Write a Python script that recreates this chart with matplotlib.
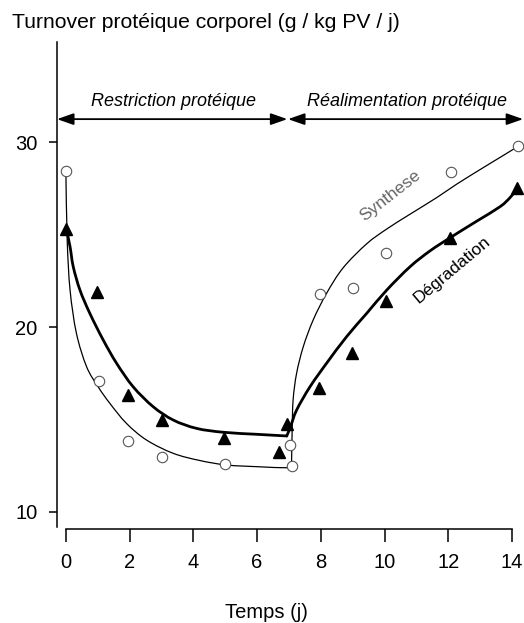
import numpy as np
import matplotlib.pyplot as plt
from matplotlib.path import Path
from matplotlib.patches import PathPatch

plt.rcParams['font.family'] = ['Liberation Sans', 'DejaVu Sans']

# ------------------------------
# Données
# ------------------------------
# Synthèse (cercles ouverts)
syn_jours = [0, 1.05, 1.95, 3.0, 5.0, 7.04, 7.08, 7.97, 9.02, 10.04, 12.08, 14.2]
syn_val = [28.45, 17.1, 13.85, 12.95, 12.6, 13.6, 12.5, 21.8, 22.1, 24.0, 28.4, 29.8]

# Dégradation (triangles pleins)
deg_jours = [0, 0.99, 1.96, 3.02, 4.97, 6.7, 6.93, 7.95, 8.97, 10.04, 12.05, 14.15]
deg_val = [25.3, 21.9, 16.3, 15.0, 14.0, 13.25, 14.75, 16.7, 18.6, 21.4, 24.8, 27.5]

# courbes ajustées (points relevés le long des tracés, une liste par tronçon)
syn_fit = [
    ([0, 0.04, 0.13, 0.33, 0.65, 1.01, 1.38, 1.9, 2.53, 3.37, 4.21, 5.04, 5.99, 6.98, 7.08],
     [28.3, 24.7, 22.0, 19.66, 17.85, 16.77, 15.87, 14.79, 13.89, 13.17, 12.78, 12.54,
      12.45, 12.39, 12.5]),
    ([7.08, 7.1, 7.13, 7.24, 7.45, 7.76, 8.18, 8.7, 9.44, 10.07, 10.8, 11.64, 12.26,
      13.1, 13.73, 14.2],
     [12.5, 14.4, 16.05, 17.5, 18.94, 20.38, 21.82, 23.2, 24.5, 25.3, 26.1, 27.0,
      27.72, 28.62, 29.28, 29.78]),
]
deg_fit = [
    ([0.02, 0.13, 0.23, 0.44, 0.75, 1.17, 1.59, 2.11, 2.74, 3.37, 4.1, 4.94, 5.99, 6.93],
     [25.24, 24.34, 23.26, 22.0, 20.74, 19.3, 18.04, 16.77, 15.69, 14.97, 14.52, 14.31,
      14.2, 14.11]),
    ([6.93, 7.05, 7.24, 7.66, 8.18, 8.81, 9.44, 10.07, 10.8, 11.43, 12.05, 12.89, 13.62,
      13.94, 14.15],
     [14.11, 14.61, 15.51, 16.77, 18.04, 19.48, 20.74, 22.0, 23.26, 24.12, 24.82, 25.72,
      26.5, 27.0, 27.45]),
]

# phases (début, fin, texte)
phases = [(-0.28, 6.95, 'Restriction protéique'),
          (6.97, 14.35, 'Réalimentation protéique')]

x_ticks = [0, 2, 4, 6, 8, 10, 12, 14]
y_ticks = [10, 20, 30]


# ------------------------------
# tracé lissé (Bézier de type Catmull-Rom passant par les points relevés)
# ------------------------------
def smooth_path(xs, ys):
    p = np.column_stack([xs, ys]).astype(float)
    ext = np.vstack([p[0], p, p[-1]])
    verts = [p[0]]
    codes = [Path.MOVETO]
    for i in range(1, len(ext) - 2):
        p0, p1, p2, p3 = ext[i - 1], ext[i], ext[i + 1], ext[i + 2]
        verts += [p1 + (p2 - p0) / 6, p2 - (p3 - p1) / 6, p2]
        codes += [Path.CURVE4] * 3
    return Path(verts, codes)


fig = plt.figure(figsize=(5.24, 6.23), dpi=100)
ax = fig.add_axes([57 / 524, 1 - 529 / 623, (512 - 57) / 524, (529 - 42) / 623])
ax.set_xlim(-0.28, 14)
ax.set_ylim(9.08, 35.41)

for xs, ys in syn_fit:
    ax.add_patch(PathPatch(smooth_path(xs, ys), fill=False, edgecolor='black', lw=0.9,
                           zorder=2, clip_on=False, capstyle='round', joinstyle='round'))
for xs, ys in deg_fit:
    ax.add_patch(PathPatch(smooth_path(xs, ys), fill=False, edgecolor='black', lw=2.0,
                           zorder=2, clip_on=False, capstyle='round', joinstyle='round'))

ax.plot(deg_jours, deg_val, linestyle='none', marker='^', markersize=9,
        color='black', zorder=3, clip_on=False)
ax.plot(syn_jours, syn_val, linestyle='none', marker='o', markersize=7.5,
        markerfacecolor='white', markeredgecolor='#555555', markeredgewidth=0.8,
        zorder=4, clip_on=False)

# flèches des phases
for x0, x1, txt in phases:
    ax.annotate('', xy=(x1, 31.24), xytext=(x0, 31.24),
                arrowprops=dict(arrowstyle='<|-|>,head_length=1.0,head_width=0.35',
                                color='black', lw=1.3, shrinkA=0, shrinkB=0),
                annotation_clip=False)
    ax.text((x0 + x1) / 2 + 0.05, 31.75, txt, style='italic', fontsize=13,
            ha='center', va='bottom')

ax.text(10.19, 27.08, 'Synthese', rotation=38, fontsize=12.5, color='#666666',
        ha='center', va='center', rotation_mode='anchor')
ax.text(12.13, 23.12, 'Dégradation', rotation=40, fontsize=12.5, color='black',
        ha='center', va='center', rotation_mode='anchor')

# axes détachés
for s in ['top', 'right']:
    ax.spines[s].set_visible(False)
ax.spines['left'].set_bounds(9.19, 35.41)
ax.spines['bottom'].set_bounds(0, 14)
ax.spines['left'].set_linewidth(1.1)
ax.spines['bottom'].set_linewidth(1.1)

ax.set_xticks(x_ticks)
ax.set_yticks(y_ticks)
ax.tick_params(axis='x', direction='out', length=9, width=1.1, pad=8, labelsize=14.5)
ax.tick_params(axis='y', direction='out', length=6, width=1.1, pad=8, labelsize=14.5)

fig.text(12 / 524, 1 - 27.5 / 623, 'Turnover protéique corporel (g / kg PV / j)',
         fontsize=15.2, ha='left', va='baseline')
fig.text(266 / 524, 1 - 618 / 623, 'Temps (j)', fontsize=14.5, ha='center', va='baseline')

fig.savefig('out.png', dpi=100)
